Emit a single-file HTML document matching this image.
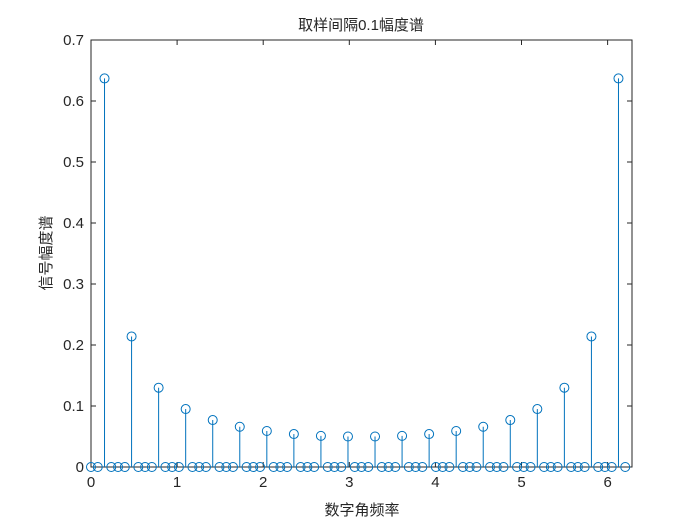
<!DOCTYPE html>
<html><head><meta charset="utf-8"><style>
body{margin:0;background:#fff;}
svg{display:block;font-family:"Liberation Sans","Noto Sans CJK SC",sans-serif;}
</style></head><body>
<svg id="chart" width="700" height="525" viewBox="0 0 700 525">
<rect width="700" height="525" fill="#fff"/>
<text x="361" y="30" text-anchor="middle" font-size="15" fill="#262626">取样间隔0.1幅度谱</text>
<text x="362" y="515" text-anchor="middle" font-size="15" fill="#262626">数字角频率</text>
<text transform="translate(51,253) rotate(-90)" text-anchor="middle" font-size="15" fill="#262626">信号幅度谱</text>
<g id="axes"></g>
<g id="marks"></g>
</svg>
<script>
const N = 80;
const mags = [
0,0,0.637,0, 0,0,0.214,0, 0,0,0.130,0, 0,0,0.095,0, 0,0,0.077,0,
0,0,0.066,0, 0,0,0.059,0, 0,0,0.054,0, 0,0,0.051,0, 0,0,0.050,0,
0,0,0.050,0, 0,0,0.051,0, 0,0,0.054,0, 0,0,0.059,0, 0,0,0.066,0,
0,0,0.077,0, 0,0,0.095,0, 0,0,0.130,0, 0,0,0.214,0, 0,0,0.637,0
];
const xTicks = [0,1,2,3,4,5,6];
const yTicks = [0,0.1,0.2,0.3,0.4,0.5,0.6,0.7];
const yTickLabels = ["0","0.1","0.2","0.3","0.4","0.5","0.6","0.7"];

const L=91,R=632,T=40,B=467, xmax=2*Math.PI, ymax=0.7;
const sx=v=>L+(v/xmax)*(R-L);
const sy=v=>B-(v/ymax)*(B-T);
const NS="http://www.w3.org/2000/svg";
function mk(tag,attrs,parent){const e=document.createElementNS(NS,tag);for(const k in attrs)e.setAttribute(k,attrs[k]);parent.appendChild(e);return e;}
const ax=document.getElementById('axes'), mg=document.getElementById('marks');
const box=mk('rect',{x:L,y:T,width:R-L,height:B-T,fill:'none',stroke:'#262626','stroke-width':1},ax);


xTicks.forEach(t=>{
  const x=sx(t);
  mk('line',{x1:x,y1:B,x2:x,y2:B-5,stroke:'#262626'},ax);
  mk('line',{x1:x,y1:T,x2:x,y2:T+5,stroke:'#262626'},ax);
  const tx=mk('text',{x:x,y:B+20,'text-anchor':'middle','font-size':15,fill:'#262626'},ax);
  tx.textContent=t;
  
  
});
yTicks.forEach((t,i)=>{
  const y=sy(t);
  mk('line',{x1:L,y1:y,x2:L+5,y2:y,stroke:'#262626'},ax);
  mk('line',{x1:R,y1:y,x2:R-5,y2:y,stroke:'#262626'},ax);
  const tx=mk('text',{x:L-7,y:y+5,'text-anchor':'end','font-size':15,fill:'#262626'},ax);
  tx.textContent=yTickLabels[i];
  
  
});
mags.forEach((v,k)=>{
  const x=sx(k*2*Math.PI/N), y=sy(v);
  const ln=mk('line',{x1:x,y1:sy(0),x2:x,y2:y,stroke:'#0072BD','stroke-width':1},mg);
  
  
  const c=mk('circle',{cx:x,cy:y,r:4.5,fill:'none',stroke:'#0072BD','stroke-width':1},mg);
  
  
});
</script>
</body></html>
